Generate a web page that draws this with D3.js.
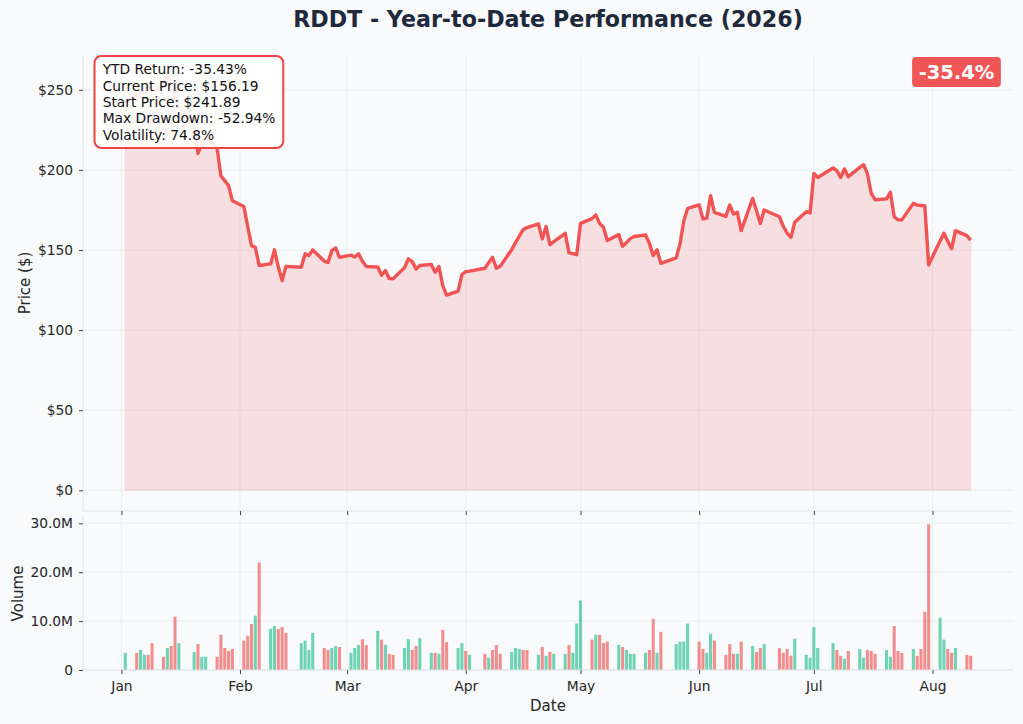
<!DOCTYPE html>
<html>
<head>
<meta charset="utf-8">
<script src="https://cdn.jsdelivr.net/npm/d3@7"></script>
<style>
  body { margin: 0; background: #f8fafc; }
  svg { display: block; font-family: "DejaVu Sans", sans-serif; }
  .tick text { fill: #262626; font-size: 13.8px; }
  .tick line { stroke: #444; }
  .grid line { stroke: #e9ecf0; stroke-width: 0.8; }
  .spine { stroke: #dfe3e8; stroke-width: 1; }
</style>
</head>
<body>
<svg id="chart"></svg>
<script>
const TICKER = "RDDT";
const YEAR = 2026;

const tradingDates = [
  "2026-01-02","2026-01-05","2026-01-06","2026-01-07","2026-01-08","2026-01-09",
  "2026-01-12","2026-01-13","2026-01-14","2026-01-15","2026-01-16",
  "2026-01-20","2026-01-21","2026-01-22","2026-01-23",
  "2026-01-26","2026-01-27","2026-01-28","2026-01-29","2026-01-30",
  "2026-02-02","2026-02-03","2026-02-04","2026-02-05","2026-02-06",
  "2026-02-09","2026-02-10","2026-02-11","2026-02-12","2026-02-13",
  "2026-02-17","2026-02-18","2026-02-19","2026-02-20",
  "2026-02-23","2026-02-24","2026-02-25","2026-02-26","2026-02-27",
  "2026-03-02","2026-03-03","2026-03-04","2026-03-05","2026-03-06",
  "2026-03-09","2026-03-10","2026-03-11","2026-03-12","2026-03-13",
  "2026-03-16","2026-03-17","2026-03-18","2026-03-19","2026-03-20",
  "2026-03-23","2026-03-24","2026-03-25","2026-03-26","2026-03-27",
  "2026-03-30","2026-03-31","2026-04-01","2026-04-02",
  "2026-04-06","2026-04-07","2026-04-08","2026-04-09","2026-04-10",
  "2026-04-13","2026-04-14","2026-04-15","2026-04-16","2026-04-17",
  "2026-04-20","2026-04-21","2026-04-22","2026-04-23","2026-04-24",
  "2026-04-27","2026-04-28","2026-04-29","2026-04-30","2026-05-01",
  "2026-05-04","2026-05-05","2026-05-06","2026-05-07","2026-05-08",
  "2026-05-11","2026-05-12","2026-05-13","2026-05-14","2026-05-15",
  "2026-05-18","2026-05-19","2026-05-20","2026-05-21","2026-05-22",
  "2026-05-26","2026-05-27","2026-05-28","2026-05-29",
  "2026-06-01","2026-06-02","2026-06-03","2026-06-04","2026-06-05",
  "2026-06-08","2026-06-09","2026-06-10","2026-06-11","2026-06-12",
  "2026-06-15","2026-06-16","2026-06-17","2026-06-18",
  "2026-06-22","2026-06-23","2026-06-24","2026-06-25","2026-06-26",
  "2026-06-29","2026-06-30","2026-07-01","2026-07-02",
  "2026-07-06","2026-07-07","2026-07-08","2026-07-09","2026-07-10",
  "2026-07-13","2026-07-14","2026-07-15","2026-07-16","2026-07-17",
  "2026-07-20","2026-07-21","2026-07-22","2026-07-23","2026-07-24",
  "2026-07-27","2026-07-28","2026-07-29","2026-07-30","2026-07-31",
  "2026-08-03","2026-08-04","2026-08-05","2026-08-06","2026-08-07",
  "2026-08-10","2026-08-11"
];

const closePrices = [
  241.89, 246.0, 250.5, 247.8, 252.6, 249.0,
  252.2, 258.8, 253.5, 245.8, 238.9,
  229.4, 210.3, 216.4, 221.0,
  213.6, 196.4, 193.3, 190.2, 180.8,
  177.1, 164.8, 152.7, 151.7, 140.3,
  141.3, 150.1, 139.5, 130.9, 139.8,
  139.2, 147.6, 146.5, 150.1,
  143.1, 142.3, 149.6, 151.3, 145.4,
  146.8, 145.6, 147.6, 143.0, 139.7,
  139.4, 134.2, 137.2, 132.2, 132.0,
  139.0, 144.5, 142.8, 138.2, 140.3,
  141.0, 136.1, 139.7, 127.8, 121.8,
  124.3, 134.7, 136.5, 136.8,
  138.6, 142.1, 145.4, 138.6, 139.8,
  150.2, 154.6, 158.7, 162.7, 164.0,
  166.3, 156.9, 164.6, 153.4, 155.2,
  160.4, 148.2, 147.7, 147.1, 166.6,
  169.6, 171.9, 166.6, 164.2, 155.9,
  159.6, 152.3, 154.6, 157.1, 158.4,
  159.4, 154.2, 146.5, 150.2, 141.7,
  145.1, 153.8, 168.3, 176.0,
  178.2, 169.4, 169.8, 183.9, 173.5,
  171.0, 178.1, 172.5, 173.5, 162.1,
  182.2, 174.6, 166.5, 175.0,
  170.8, 164.8, 160.5, 157.9, 167.3,
  173.9, 173.1, 197.8, 195.3,
  201.2, 199.5, 195.3, 200.6, 195.8,
  201.6, 203.2, 197.6, 185.3, 181.4,
  181.9, 186.1, 170.8, 168.8, 168.8,
  179.1, 178.0, 177.8, 177.6, 140.7,
  155.8, 160.4, 155.5, 150.8, 162.1,
  159.0, 156.19
];

// daily volume, millions of shares
const volumesM = [
  3.5, 3.5, 4.1, 3.1, 3.1, 5.5,
  2.7, 4.5, 4.9, 10.9, 5.5,
  3.7, 5.3, 2.7, 2.7,
  2.7, 7.2, 4.5, 3.9, 4.3,
  6.0, 7.0, 9.4, 11.1, 22.0,
  8.4, 9.0, 8.4, 8.8, 7.6,
  5.5, 6.0, 4.1, 7.6,
  4.5, 4.1, 4.5, 4.9, 4.7,
  3.5, 4.5, 5.1, 6.3, 5.1,
  8.0, 6.2, 5.1, 3.3, 3.1,
  4.5, 6.3, 4.1, 4.9, 6.5,
  3.5, 3.5, 3.3, 8.2, 5.7,
  4.5, 5.5, 3.9, 3.1,
  3.3, 2.5, 4.1, 5.1, 3.3,
  3.7, 4.5, 4.3, 4.1, 4.1,
  3.1, 4.7, 2.9, 3.7, 3.3,
  3.3, 5.1, 3.5, 9.5, 14.2,
  6.2, 7.2, 7.2, 5.5, 5.8,
  5.1, 4.7, 4.1, 3.3, 3.3,
  3.5, 4.1, 10.5, 3.5, 7.8,
  5.3, 5.8, 5.8, 9.5,
  5.8, 4.3, 3.5, 7.4, 6.0,
  3.1, 5.3, 3.3, 3.3, 5.8,
  4.9, 3.7, 4.5, 5.3,
  4.5, 3.5, 4.3, 2.9, 6.4,
  3.1, 2.5, 8.8, 4.5,
  5.5, 4.1, 2.9, 2.3, 3.9,
  4.3, 2.5, 4.1, 3.9, 3.3,
  4.1, 2.7, 9.0, 3.9, 3.5,
  4.3, 2.9, 4.3, 11.9, 29.8,
  10.7, 6.2, 4.3, 3.5, 4.5,
  3.1, 2.9
];

// u = closed above open, d = closed below open
const sessionDirection = [
  "u","d","u","u","d","d",
  "d","u","d","d","u",
  "u","d","u","u",
  "d","d","d","d","d",
  "d","d","d","u","d",
  "u","u","d","d","d",
  "u","u","u","u",
  "d","d","u","u","d",
  "u","u","u","d","d",
  "u","d","u","d","d",
  "u","u","d","d","u",
  "u","d","u","d","d",
  "u","u","d","u",
  "d","u","d","d","d",
  "u","u","u","d","d",
  "u","d","u","d","u",
  "u","d","u","u","u",
  "d","u","d","d","d",
  "u","d","u","u","u",
  "u","d","d","u","d",
  "u","u","u","u",
  "d","d","u","u","d",
  "d","d","d","u","d",
  "u","d","d","u",
  "d","d","d","d","u",
  "u","u","u","u",
  "u","d","d","u","d",
  "u","u","d","d","d",
  "u","u","d","d","d",
  "u","d","d","d","d",
  "u","u","d","d","u",
  "d","d"
];

const priceTicks = [0, 50, 100, 150, 200, 250];
const volumeTicks = [0, 10, 20, 30];
const monthTicks = ["2026-01-01","2026-02-01","2026-03-01","2026-04-01",
  "2026-05-01","2026-06-01","2026-07-01","2026-08-01"];
const annualVolatilityPct = 74.8;

const CHART_SIZE = { width: 1023, height: 724 };
const PRICE_BOX = { left: 83, right: 1013, top: 55, bottom: 511 };
const VOLUME_BOX = { left: 83, right: 1013, top: 517, bottom: 670 };
const RED = "#ef4444";
const GREEN = "#10b981";

const parseDate = d3.timeParse("%Y-%m-%d");
const days = tradingDates.map((d, i) => ({
  date: parseDate(d),
  price: closePrices[i],
  volume: volumesM[i],
  up: sessionDirection[i] === "u"
}));

// stats for the annotation box
const startPrice = closePrices[0];
const currentPrice = closePrices[closePrices.length - 1];
const ytdReturn = (currentPrice / startPrice - 1) * 100;
let runningMax = -Infinity;
const maxDrawdown = d3.min(closePrices, p => {
  runningMax = Math.max(runningMax, p);
  return (p / runningMax - 1) * 100;
});
const statsLines = [
  `YTD Return: ${ytdReturn.toFixed(2)}%`,
  `Current Price: $${currentPrice.toFixed(2)}`,
  `Start Price: $${startPrice.toFixed(2)}`,
  `Max Drawdown: ${maxDrawdown.toFixed(2)}%`,
  `Volatility: ${annualVolatilityPct.toFixed(1)}%`
];

const svg = d3.select("#chart")
  .attr("width", CHART_SIZE.width)
  .attr("height", CHART_SIZE.height)
  .style("background", "#f8fafc");

const first = days[0].date, last = days[days.length - 1].date;
const span = last - first;
const x = d3.scaleTime()
  .domain([new Date(+first - span * 0.05), new Date(+last + span * 0.05)])
  .range([PRICE_BOX.left, PRICE_BOX.right]);

const maxPrice = d3.max(closePrices);
const yPrice = d3.scaleLinear()
  .domain([-maxPrice * 0.05, maxPrice * 1.05])
  .range([PRICE_BOX.bottom, PRICE_BOX.top]);

const maxVolume = d3.max(volumesM);
const yVolume = d3.scaleLinear()
  .domain([0, maxVolume * 1.05])
  .range([VOLUME_BOX.bottom, VOLUME_BOX.top]);

const monthDates = monthTicks.map(parseDate);

const drawGrid = function(box, yScale, yValues) {
  const g = svg.append("g").attr("class", "grid");
  g.selectAll(".vx").data(monthDates).enter().append("line")
    .attr("x1", d => x(d)).attr("x2", d => x(d))
    .attr("y1", box.top).attr("y2", box.bottom);
  g.selectAll(".hy").data(yValues).enter().append("line")
    .attr("x1", box.left).attr("x2", box.right)
    .attr("y1", d => yScale(d)).attr("y2", d => yScale(d));
};

const drawSpines = function(box) {
  svg.append("line").attr("class", "spine")
    .attr("x1", box.left).attr("x2", box.left)
    .attr("y1", box.top).attr("y2", box.bottom);
  svg.append("line").attr("class", "spine")
    .attr("x1", box.left).attr("x2", box.right)
    .attr("y1", box.bottom).attr("y2", box.bottom);
};

drawGrid(PRICE_BOX, yPrice, priceTicks);
drawGrid(VOLUME_BOX, yVolume, volumeTicks);

// price area + line
svg.append("path")
  .datum(days)
  .attr("d", d3.area()
    .x(d => x(d.date))
    .y0(yPrice(0))
    .y1(d => yPrice(d.price)))
  .attr("fill", RED)
  .attr("fill-opacity", 0.15)
  .attr("stroke", RED)
  .attr("stroke-opacity", 0.12)
  .attr("stroke-width", 1);

svg.append("path")
  .datum(days)
  .attr("d", d3.line().x(d => x(d.date)).y(d => yPrice(d.price)))
  .attr("fill", "none")
  .attr("stroke", RED)
  .attr("stroke-opacity", 0.9)
  .attr("stroke-width", 3.4)
  .attr("stroke-linejoin", "round");

// volume bars, 0.8 day wide
const halfBar = 0.4 * 24 * 3600 * 1000;
svg.append("g")
  .selectAll("rect")
  .data(days)
  .enter()
  .append("rect")
  .attr("x", d => x(new Date(+d.date - halfBar)))
  .attr("width", d => x(new Date(+d.date + halfBar)) - x(new Date(+d.date - halfBar)))
  .attr("y", d => yVolume(d.volume))
  .attr("height", d => yVolume(0) - yVolume(d.volume))
  .attr("fill", d => (d.up ? GREEN : RED))
  .attr("fill-opacity", 0.6);

drawSpines(PRICE_BOX);
drawSpines(VOLUME_BOX);

// axes
const styleAxis = g => g.call(a => a.select(".domain").remove());

svg.append("g")
  .attr("transform", `translate(${PRICE_BOX.left},0)`)
  .call(d3.axisLeft(yPrice).tickValues(priceTicks).tickFormat(d => `$${d}`)
    .tickSize(4).tickPadding(6))
  .call(styleAxis);

svg.append("g")
  .attr("transform", `translate(0,${PRICE_BOX.bottom})`)
  .call(d3.axisBottom(x).tickValues(monthDates).tickFormat("").tickSize(4))
  .call(styleAxis);

svg.append("g")
  .attr("transform", `translate(${VOLUME_BOX.left},0)`)
  .call(d3.axisLeft(yVolume).tickValues(volumeTicks)
    .tickFormat(d => (d === 0 ? "0" : `${d.toFixed(1)}M`))
    .tickSize(4).tickPadding(6))
  .call(styleAxis);

svg.append("g")
  .attr("transform", `translate(0,${VOLUME_BOX.bottom})`)
  .call(d3.axisBottom(x).tickValues(monthDates).tickFormat(d3.timeFormat("%b"))
    .tickSize(4).tickPadding(7))
  .call(styleAxis);

svg.selectAll(".tick text").attr("font-family", "DejaVu Sans");

// labels
svg.append("text")
  .attr("x", (PRICE_BOX.left + PRICE_BOX.right) / 2)
  .attr("y", 27)
  .attr("text-anchor", "middle")
  .attr("font-size", 22.2)
  .attr("font-weight", "bold")
  .attr("fill", "#1e293b")
  .text(`${TICKER} - Year-to-Date Performance (${YEAR})`);

svg.append("text")
  .attr("transform", `translate(29.5,${(PRICE_BOX.top + PRICE_BOX.bottom) / 2}) rotate(-90)`)
  .attr("text-anchor", "middle")
  .attr("font-size", 15)
  .attr("fill", "#262626")
  .text("Price ($)");

svg.append("text")
  .attr("transform", `translate(23,${(VOLUME_BOX.top + VOLUME_BOX.bottom) / 2}) rotate(-90)`)
  .attr("text-anchor", "middle")
  .attr("font-size", 15)
  .attr("fill", "#262626")
  .text("Volume");

svg.append("text")
  .attr("x", (VOLUME_BOX.left + VOLUME_BOX.right) / 2)
  .attr("y", 711)
  .attr("text-anchor", "middle")
  .attr("font-size", 15)
  .attr("fill", "#262626")
  .text("Date");

// stats box
const statsBox = svg.append("g");
const statsRect = statsBox.append("rect");
const statsText = statsBox.append("text")
  .attr("font-size", 13.8)
  .attr("fill", "#111");
statsText.selectAll("tspan")
  .data(statsLines)
  .enter()
  .append("tspan")
  .attr("x", 102.7)
  .attr("y", (d, i) => 74.3 + i * 16.3)
  .text(d => d);
const statsWidth = d3.max(statsText.selectAll("tspan").nodes(), n => n.getComputedTextLength());
statsRect
  .attr("x", 94.5)
  .attr("y", 56)
  .attr("width", statsWidth + 16)
  .attr("height", 92)
  .attr("rx", 7)
  .attr("fill", "#fff")
  .attr("fill-opacity", 0.9)
  .attr("stroke", RED)
  .attr("stroke-width", 2);

// return badge
const badge = svg.append("g");
const badgeRect = badge.append("rect");
const badgeText = badge.append("text")
  .attr("x", 956.5)
  .attr("y", 78.5)
  .attr("text-anchor", "middle")
  .attr("font-size", 19.5)
  .attr("font-weight", "bold")
  .attr("fill", "#fff")
  .text(`${ytdReturn.toFixed(1)}%`);
const badgeWidth = badgeText.node().getComputedTextLength();
badgeRect
  .attr("x", 956.5 - badgeWidth / 2 - 6.5)
  .attr("y", 57)
  .attr("width", badgeWidth + 13)
  .attr("height", 30)
  .attr("rx", 4)
  .attr("fill", RED)
  .attr("fill-opacity", 0.9);
</script>
</body>
</html>
